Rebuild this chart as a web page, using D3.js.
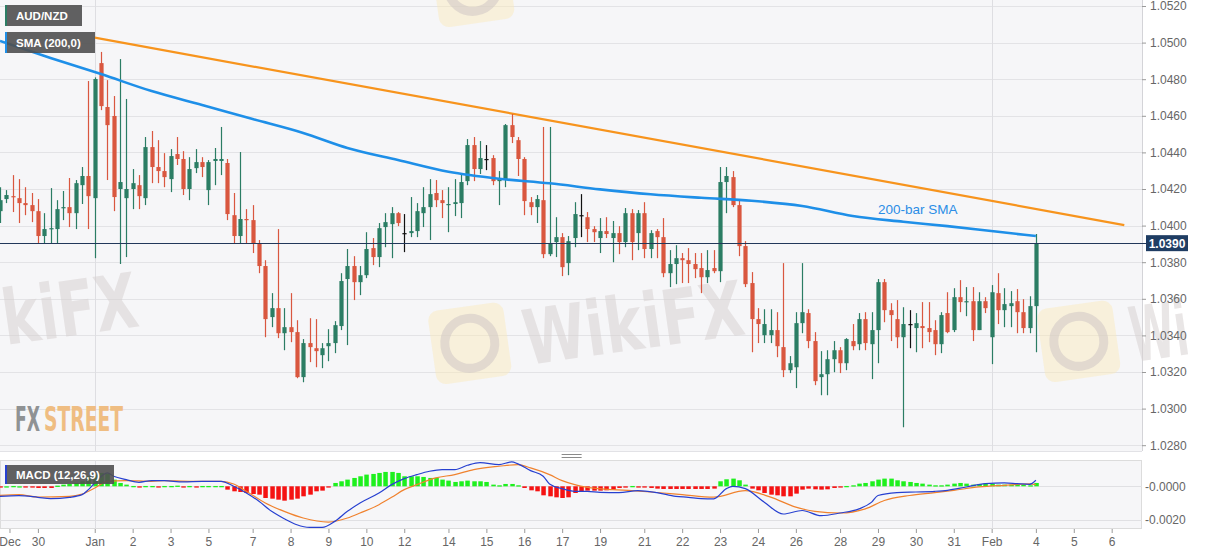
<!DOCTYPE html>
<html><head><meta charset="utf-8">
<script src="https://cdn.jsdelivr.net/npm/d3@7"></script>
<style>
html,body{margin:0;padding:0;background:#fff;}
svg{display:block;font-family:"Liberation Sans",Arial,sans-serif;}
</style></head><body>
<svg id="c" width="1207" height="555"></svg>
<script>
// ---------- DATA (4-hour AUD/NZD candles, Dec 30 – Feb 4) ----------
const openP = [1.04079,1.04145,1.04161,1.04150,1.04123,1.04112,1.04079,1.03943,1.03981,1.03981,
 1.04096,1.04101,1.04068,1.04221,1.04271,1.04150,1.04888,1.04648,1.04599,1.04200,
 1.04150,1.04200,1.04221,1.04150,1.04429,1.04320,1.04298,1.04254,1.04391,1.04364,
 1.04200,1.04314,1.04347,1.04194,1.04353,1.04353,1.04342,1.04057,1.03943,1.04036,
 1.04030,1.03904,1.03779,1.03500,1.03549,1.03412,1.03445,1.03418,1.03172,1.03358,
 1.03330,1.03292,1.03341,1.03358,1.03451,1.03708,1.03779,1.03691,1.03729,1.03877,
 1.03828,1.03992,1.04008,1.04068,1.03959,1.03959,1.03970,1.04068,1.04101,1.04178,
 1.04139,1.04112,1.04118,1.04123,1.04243,1.04440,1.04309,1.04364,1.04369,1.04243,
 1.04254,1.04549,1.04467,1.04364,1.04128,1.04101,1.04139,1.03844,1.03910,1.03937,
 1.03795,1.03932,1.04057,1.04046,1.03981,1.03932,1.03970,1.03932,1.03959,1.03910,
 1.04068,1.03959,1.04068,1.03872,1.03970,1.03937,1.03740,1.03790,1.03822,1.03811,
 1.03790,1.03768,1.03718,1.03768,1.03751,1.04238,1.04265,1.04112,1.03888,1.03686,
 1.03489,1.03401,1.03401,1.03429,1.03336,1.03210,1.03226,1.03467,1.03522,1.03369,
 1.03172,1.03188,1.03270,1.03319,1.03248,1.03369,1.03352,1.03489,1.03352,1.03429,
 1.03691,1.03538,1.03489,1.03390,1.03462,1.03440,1.03451,1.03440,1.03429,1.03352,
 1.03522,1.03429,1.03609,1.03582,1.03587,1.03429,1.03587,1.03390,1.03631,1.03538,
 1.03560,1.03587,1.03527,1.03440,1.03560];
const highP = [1.04210,1.04194,1.04276,1.04254,1.04210,1.04178,1.04145,1.04068,1.04205,1.04139,
 1.04189,1.04260,1.04249,1.04320,1.04790,1.04810,1.04949,1.04795,1.04708,1.04910,
 1.04692,1.04309,1.04276,1.04484,1.04517,1.04467,1.04396,1.04418,1.04484,1.04407,
 1.04374,1.04418,1.04374,1.04358,1.04424,1.04539,1.04364,1.04178,1.04402,1.04090,
 1.04112,1.03921,1.03811,1.03631,1.03981,1.03549,1.03631,1.03483,1.03380,1.03494,
 1.03489,1.03358,1.03434,1.03478,1.03740,1.03872,1.03833,1.03779,1.03964,1.03932,
 1.04014,1.04068,1.04101,1.04074,1.04063,1.04156,1.04123,1.04210,1.04254,1.04249,
 1.04194,1.04210,1.04254,1.04287,1.04473,1.04484,1.04462,1.04440,1.04385,1.04298,
 1.04555,1.04610,1.04484,1.04374,1.04156,1.04167,1.04539,1.04539,1.04046,1.03959,
 1.03943,1.04128,1.04172,1.04074,1.03997,1.04041,1.04046,1.04025,1.03997,1.04096,
 1.04090,1.04085,1.04128,1.03975,1.03981,1.04041,1.03866,1.03893,1.03850,1.03877,
 1.03850,1.03850,1.03866,1.03866,1.04320,1.04320,1.04298,1.04139,1.03915,1.03746,
 1.03549,1.03543,1.03543,1.03527,1.03795,1.03287,1.03527,1.03795,1.03543,1.03418,
 1.03314,1.03319,1.03369,1.03336,1.03385,1.03462,1.03522,1.03527,1.03527,1.03708,
 1.03708,1.03576,1.03593,1.03554,1.03538,1.03522,1.03582,1.03582,1.03483,1.03527,
 1.03636,1.03658,1.03702,1.03664,1.03664,1.03636,1.03609,1.03675,1.03740,1.03658,
 1.03642,1.03653,1.03598,1.03614,1.03954];
const lowP = [1.04014,1.04123,1.04074,1.04014,1.04057,1.04019,1.03904,1.03904,1.03904,1.03904,
 1.04030,1.03992,1.03981,1.04118,1.03981,1.03822,1.04631,1.04249,1.04079,1.03790,
 1.03828,1.04090,1.04090,1.04112,1.04232,1.04232,1.04210,1.04183,1.04331,1.04167,
 1.04139,1.04287,1.04265,1.04112,1.04221,1.04276,1.04030,1.03904,1.03904,1.03904,
 1.03850,1.03740,1.03390,1.03445,1.03385,1.03319,1.03363,1.03166,1.03144,1.03254,
 1.03226,1.03221,1.03259,1.03303,1.03429,1.03347,1.03593,1.03620,1.03713,1.03784,
 1.03773,1.03882,1.03822,1.03997,1.03855,1.03937,1.03937,1.03992,1.03921,1.04101,
 1.04041,1.03964,1.04052,1.04041,1.04221,1.04243,1.04282,1.04303,1.04221,1.04112,
 1.04210,1.04451,1.04271,1.04057,1.04057,1.04014,1.03822,1.03833,1.03828,1.03724,
 1.03729,1.03882,1.03937,1.03910,1.03910,1.03850,1.03932,1.03800,1.03844,1.03882,
 1.03811,1.03866,1.03822,1.03822,1.03822,1.03718,1.03664,1.03680,1.03686,1.03686,
 1.03713,1.03631,1.03686,1.03740,1.03691,1.04068,1.04101,1.03833,1.03664,1.03308,
 1.03358,1.03358,1.03358,1.03281,1.03172,1.03194,1.03112,1.03412,1.03330,1.03128,
 1.03073,1.03073,1.03199,1.03194,1.03210,1.03319,1.03319,1.03319,1.03161,1.03248,
 1.03472,1.03369,1.03330,1.02898,1.03330,1.03308,1.03330,1.03363,1.03292,1.03303,
 1.03412,1.03418,1.03527,1.03505,1.03369,1.03429,1.03522,1.03243,1.03462,1.03445,
 1.03445,1.03412,1.03412,1.03412,1.03308];
const closeP = [1.04139,1.04167,1.04156,1.04123,1.04112,1.04079,1.03943,1.03981,1.03986,1.04090,
 1.04101,1.04068,1.04232,1.04271,1.04161,1.04801,1.04653,1.04549,1.04156,1.04238,
 1.04200,1.04232,1.04161,1.04429,1.04320,1.04298,1.04265,1.04380,1.04364,1.04200,
 1.04309,1.04347,1.04320,1.04347,1.04364,1.04364,1.04063,1.03943,1.04036,1.04030,
 1.03904,1.03779,1.03489,1.03549,1.03412,1.03445,1.03418,1.03172,1.03358,1.03336,
 1.03314,1.03330,1.03358,1.03456,1.03697,1.03779,1.03691,1.03729,1.03872,1.03828,
 1.03986,1.04019,1.04068,1.04014,1.03959,1.03970,1.04079,1.04101,1.04172,1.04139,
 1.04123,1.04118,1.04128,1.04238,1.04440,1.04309,1.04369,1.04364,1.04243,1.04260,
 1.04549,1.04484,1.04364,1.04134,1.04101,1.04145,1.03844,1.03904,1.03937,1.03773,
 1.03915,1.04063,1.04057,1.03981,1.03964,1.03970,1.03954,1.03959,1.03910,1.04068,
 1.03910,1.04068,1.03872,1.03959,1.03937,1.03740,1.03790,1.03822,1.03811,1.03790,
 1.03762,1.03718,1.03757,1.03751,1.04238,1.04271,1.04112,1.03888,1.03680,1.03489,
 1.03462,1.03462,1.03429,1.03341,1.03210,1.03248,1.03467,1.03527,1.03369,1.03150,
 1.03188,1.03270,1.03319,1.03248,1.03380,1.03341,1.03489,1.03358,1.03429,1.03691,
 1.03538,1.03511,1.03390,1.03462,1.03462,1.03467,1.03440,1.03418,1.03352,1.03511,
 1.03418,1.03609,1.03582,1.03587,1.03429,1.03587,1.03549,1.03636,1.03538,1.03571,
 1.03576,1.03527,1.03440,1.03560,1.03904];

// 200-bar SMA (read at sample bars)
const smaIdx = [0,8,16,24,32,40,48,55,63,71,79,87,95,103,111,119,127,135,143,150,158,164];
const smaVal = [1.05009,1.04916,1.04828,1.04735,1.04659,1.04582,1.04506,1.04424,1.04358,1.04294,1.04256,
 1.04231,1.04198,1.04171,1.04152,1.04136,1.04107,1.04052,1.04021,1.03997,1.03966,1.03943];

// Falling resistance line (two anchors)
const trendIdx = [15, 178];
const trendVal = [1.05027, 1.04003];

// MACD (12,26,9)
const macdIdx = [0,3,6,8,11,13,14,15,17,18,20,22,24,26,29,32,35,37,39,41,43,45,47,49,51,53,55,57,60,62,
 64,66,68,70,72,74,76,79,81,82,84,86,87,89,91,93,95,98,101,104,107,109,111,113,115,116,118,121,124,127,
 130,133,136,138,139,142,145,148,150,153,156,159,161,163,164];
const macdVal = [-0.0006,-0.00056,-0.00066,-0.00074,-0.00066,-0.0005,-0.0002,0.0002,0.0008,0.0006,
 0.0004,0.00024,0.00034,0.00034,0.00026,0.0003,0.0003,0,-0.0004,-0.0009,
 -0.0015,-0.00194,-0.0023,-0.00246,-0.00246,-0.0021,-0.0015,-0.001,-0.0004,0.0001,
 0.00046,0.0007,0.0009,0.001,0.001,0.00126,0.00142,0.0013,0.00146,0.00134,
 0.00094,0.0006,0.00014,-0.00014,-0.0003,-0.0003,-0.00036,-0.00038,-0.00026,-0.00038,
 -0.0006,-0.00066,-0.00074,-0.00075,-0.00014,0,-0.00014,-0.00095,-0.00166,-0.00145,
 -0.00176,-0.0016,-0.00135,-0.00095,-0.00055,-0.00038,-0.00034,-0.0003,-0.00024,-0.00004,
 0.00016,0.0002,0.00016,0.00012,0.00036];
const sigIdx = [0,3,6,11,13,15,17,20,24,26,30,35,37,39,42,45,48,52,55,57,60,62,64,66,69,72,75,79,82,84,
 87,89,91,93,97,100,103,105,108,113,118,122,126,129,133,137,140,144,148,151,155,159,163,164];
const sigVal = [-0.00054,-0.0005,-0.00064,-0.0006,-0.00046,-0.0001,0.0003,0.00034,0.0003,0.00034,
 0.0003,0.0003,0.00014,-0.0003,-0.001,-0.0015,-0.0019,-0.00214,-0.0019,-0.0016,
 -0.0011,-0.00066,-0.0002,0.0001,0.0005,0.0007,0.001,0.0012,0.0013,0.0011,
 0.0007,0.00034,0.0001,-0.00006,-0.0002,-0.00026,-0.00034,-0.0004,-0.0005,-0.00065,
 -0.00026,-0.00065,-0.00125,-0.0015,-0.0016,-0.00135,-0.00085,-0.00055,-0.00038,-0.00024,
 -0.00004,0.00006,0.00014,0.0001];
const histVal = [-0.00002,0,0.00002,0,-0.00002,-0.00004,-0.0001,-0.0001,-0.0001,0.00004,
 0.0001,0.00014,0.0002,0.0003,0.0006,0.0007,0.0008,0.00076,0.0004,0.0002,
 0.0001,0.00002,-0.00006,0.00002,0.00002,-0.00002,0.00002,0.00002,0.00004,-0.00004,
 0.00002,-0.00004,0.00002,0.00002,0.00002,0.00002,-0.0002,-0.0003,-0.00034,-0.0004,
 -0.00046,-0.0005,-0.0007,-0.00074,-0.0008,-0.00086,-0.0008,-0.00074,-0.0006,-0.0005,
 -0.0003,-0.00026,-0.00006,0.0002,0.0003,0.0004,0.0005,0.0006,0.0007,0.00074,
 0.0008,0.00086,0.00086,0.0008,0.0006,0.0006,0.0006,0.00056,0.0005,0.0005,
 0.0004,0.00034,0.00026,0.0003,0.00034,0.0003,0.0003,0.00026,0.0001,0.00006,
 0.00014,0.00014,0.00006,-0.0001,-0.00024,-0.0003,-0.00054,-0.0006,-0.00066,-0.0007,
 -0.00066,-0.0004,-0.0003,-0.00026,-0.00026,-0.00026,-0.00024,-0.0002,-0.0001,-0.00008,
 0.00002,-0.00004,-0.00006,-0.0001,-0.00014,-0.00016,-0.00016,-0.00016,-0.00016,-0.00016,
 -0.00016,-0.00016,-0.00016,-0.00014,0.0003,0.00042,0.00046,0.00036,0.0001,-0.00014,
 -0.00024,-0.0004,-0.0005,-0.00054,-0.0006,-0.0006,-0.00044,-0.0002,-0.00014,-0.00018,
 -0.0002,-0.00018,-0.0001,-0.00004,0.00002,0.00006,0.00016,0.0002,0.0003,0.0004,
 0.00046,0.00046,0.00036,0.0003,0.00026,0.0002,0.00016,0.0001,0.00006,0.00006,
 0.0001,0.00016,0.0002,0.00016,0.0001,0.00014,0.00016,0.00016,0.0001,0.0001,
 0.0001,0.0001,0.0001,0.00006,0.0002];

// Axis ticks
const priceTicks = [1.0280,1.0300,1.0320,1.0340,1.0360,1.0380,1.0400,1.0420,1.0440,1.0460,1.0480,1.0500,1.0520];
const macdTicks = [0, -0.0020];
const macdTickLabels = ["-0.0000", "-0.0020"];
const xTickIdx = [1.5,6,15,21,27,33,40,46,52,58,64,71,77,83,89,95,102,108,114,120,126,133,139,145,151,157,164,170,176];
const xTickLabels = ["Dec","30","Jan","2","3","5","7","8","9","10","12","14","15","16","17","19","21","22","23","24","26","28","29","30","31","Feb","4","5","6"];
const monthStartIdx = [15, 157];

// ---------- LAYOUT ----------
const PW = 1142;
const M = {top:0, bottom:451};
const Mc = {top:460, bottom:529};
const svg = d3.select("#c");

const x = d3.scaleLinear().domain([0, 180.8]).range([0, PW]);
const y = d3.scaleLinear().domain([1.0280, 1.0520]).range([445.2, 6]);
const ym = d3.scaleLinear().domain([-0.0020, 0]).range([519.7, 486.3]);

const defs = svg.append("defs");
defs.append("clipPath").attr("id","clipMain").append("rect").attr("x",0).attr("y",M.top).attr("width",PW).attr("height",M.bottom-M.top);
defs.append("clipPath").attr("id","clipMacd").append("rect").attr("x",0).attr("y",Mc.top).attr("width",PW).attr("height",Mc.bottom-Mc.top);

svg.append("rect").attr("width",1207).attr("height",555).attr("fill","#ffffff");
svg.append("rect").attr("x",0).attr("y",M.top).attr("width",PW).attr("height",M.bottom-M.top).attr("fill","#f6f6f8");
svg.append("rect").attr("x",0.5).attr("y",Mc.top+0.5).attr("width",PW-1).attr("height",Mc.bottom-Mc.top-1).attr("fill","#f6f6f8").attr("stroke","#dcdcdc");

// grid
svg.append("g").selectAll("line").data(priceTicks).join("line")
  .attr("x1",0).attr("x2",PW).attr("y1",d=>Math.round(y(d))+0.5).attr("y2",d=>Math.round(y(d))+0.5)
  .attr("stroke","#e3e3e6");
svg.append("g").selectAll("line").data(macdTicks).join("line")
  .attr("x1",0).attr("x2",PW).attr("y1",d=>Math.round(ym(d))+0.5).attr("y2",d=>Math.round(ym(d))+0.5)
  .attr("stroke","#e0e0e3");
monthStartIdx.forEach(i=>{
  const xx = Math.round(x(i))+0.5;
  svg.append("line").attr("x1",xx).attr("x2",xx).attr("y1",M.top).attr("y2",M.bottom).attr("stroke","#dedee2");
  svg.append("line").attr("x1",xx).attr("x2",xx).attr("y1",Mc.top).attr("y2",Mc.bottom).attr("stroke","#dedee2");
});
svg.append("line").attr("x1",PW+0.5).attr("x2",PW+0.5).attr("y1",0).attr("y2",M.bottom).attr("stroke","#d4d4d8");
svg.append("line").attr("x1",0).attr("x2",PW).attr("y1",M.bottom+0.5).attr("y2",M.bottom+0.5).attr("stroke","#e2e2e6");

// ---------- watermarks ----------
function wmLogo(gx, gy){
  const g = svg.append("g").attr("transform",`translate(${gx},${gy}) rotate(-8)`);
  g.append("rect").attr("x",0).attr("y",0).attr("width",76).attr("height",74).attr("rx",10)
    .attr("fill","#fbe8b8").attr("opacity",0.45);
  g.append("circle").attr("cx",38).attr("cy",37).attr("r",25).attr("fill","none")
    .attr("stroke","#cfc7c4").attr("stroke-width",9).attr("opacity",0.55);
}
function wmText(tx, ty, txt, tlen){
  svg.append("text").attr("x",tx).attr("y",ty).text(txt)
    .attr("transform",`rotate(-8,${tx},${ty})`)
    .attr("font-family","DejaVu Sans, sans-serif").attr("font-weight","bold").attr("font-size",76)
    .attr("textLength",tlen).attr("lengthAdjust","spacingAndGlyphs")
    .attr("fill","#d8d2d2").attr("opacity",0.55);
}
wmLogo(427, 312); wmText(527, 365, "WikiFX", 222);
wmLogo(1036, 310); wmText(1134, 362, "Wi", 58);
wmText(6, 345, "kiFX", 136);
wmLogo(430, -45);

// FXSTREET logo
const fxAttrs = t => t.attr("y",431).attr("font-family","DejaVu Sans Condensed, DejaVu Sans, sans-serif")
  .attr("font-weight","bold").attr("font-size",34).attr("lengthAdjust","spacingAndGlyphs");
svg.append("text").attr("x",15).text("FX").attr("fill","#8f9294").attr("textLength",25).call(fxAttrs);
svg.append("text").attr("x",44).text("STREET").attr("fill","#efbd82").attr("textLength",79).call(fxAttrs);

// ---------- candles ----------
const candles = openP.map((o,i)=>({i, o, h:highP[i], l:lowP[i], c:closeP[i]}));
const GREEN = "#2b7d64", RED = "#d9573f";
const col = d => d.c > d.o ? GREEN : (d.c < d.o ? RED : "#111111");
const cg = svg.append("g").attr("clip-path","url(#clipMain)");

cg.append("path").datum(trendIdx.map((d,k)=>[d,trendVal[k]]))
  .attr("d", d3.line().x(d=>x(d[0])).y(d=>y(d[1])))
  .attr("fill","none").attr("stroke","#f7941d").attr("stroke-width",2.2);

cg.selectAll("line.wick").data(candles).join("line").attr("class","wick")
  .attr("x1",d=>Math.round(x(d.i))+0.5).attr("x2",d=>Math.round(x(d.i))+0.5)
  .attr("y1",d=>y(d.h)).attr("y2",d=>y(d.l))
  .attr("stroke",col).attr("stroke-width",1.2);
cg.selectAll("rect.body").data(candles).join("rect").attr("class","body")
  .attr("x",d=>Math.round(x(d.i))-1.6).attr("width",4.2)
  .attr("y",d=>y(Math.max(d.o,d.c)))
  .attr("height",d=>Math.max(1.2, Math.abs(y(d.o)-y(d.c))))
  .attr("fill",col);

cg.append("path").datum(smaIdx.map((d,k)=>[d,smaVal[k]]))
  .attr("d", d3.line().curve(d3.curveMonotoneX).x(d=>x(d[0])).y(d=>y(d[1])))
  .attr("fill","none").attr("stroke","#1e8fe8").attr("stroke-width",2.6);

const last = closeP[closeP.length-1];
svg.append("line").attr("x1",0).attr("x2",PW+4).attr("y1",Math.round(y(last))+0.5).attr("y2",Math.round(y(last))+0.5)
  .attr("stroke","#22385a").attr("stroke-width",1.2);

svg.append("text").attr("x",x(139)).attr("y",y(1.04063)).text("200-bar SMA")
  .attr("fill","#2b8de6").attr("font-size",13.5);

// ---------- MACD ----------
const mg = svg.append("g").attr("clip-path","url(#clipMacd)");
mg.selectAll("rect").data(histVal).join("rect")
  .attr("x",(d,i)=>Math.round(x(i))-1.7).attr("width",4.5)
  .attr("y",d=>ym(Math.max(0,d)))
  .attr("height",d=>Math.max(1.3, Math.abs(ym(d)-ym(0))))
  .attr("fill",d=>d>=0?"#1ef01e":"#f51212");
mg.append("path").datum(sigIdx.map((d,k)=>[d,sigVal[k]]))
  .attr("d", d3.line().curve(d3.curveMonotoneX).x(d=>x(d[0])).y(d=>ym(d[1])))
  .attr("fill","none").attr("stroke","#f0822e").attr("stroke-width",1.2);
mg.append("path").datum(macdIdx.map((d,k)=>[d,macdVal[k]]))
  .attr("d", d3.line().curve(d3.curveMonotoneX).x(d=>x(d[0])).y(d=>ym(d[1])))
  .attr("fill","none").attr("stroke","#2740d0").attr("stroke-width",1.2);

const hx = x(90.5);
[454.5, 457.5].forEach(yy=>svg.append("line").attr("x1",hx-10).attr("x2",hx+10).attr("y1",yy).attr("y2",yy).attr("stroke","#8a8a8a"));

// ---------- axes ----------
const ay = svg.append("g").attr("transform",`translate(${PW},0)`)
  .call(d3.axisRight(y).tickValues(priceTicks).tickSize(4).tickPadding(4).tickFormat(d3.format(".4f")));
ay.select(".domain").remove();
ay.selectAll("line").attr("stroke","#9a9a9a");
ay.selectAll("text").attr("fill","#666").attr("font-size",12).attr("font-family","Liberation Sans, Arial, sans-serif");

const aym = svg.append("g").attr("transform",`translate(${PW},0)`)
  .call(d3.axisRight(ym).tickValues(macdTicks).tickSize(0).tickPadding(3).tickFormat((d,i)=>macdTickLabels[i]));
aym.select(".domain").remove();
aym.selectAll("text").attr("fill","#666").attr("font-size",12).attr("font-family","Liberation Sans, Arial, sans-serif");

const ax = svg.append("g").attr("transform",`translate(0,${Mc.bottom})`)
  .call(d3.axisBottom(x).tickValues(xTickIdx).tickSize(4).tickPadding(4).tickFormat((d,i)=>xTickLabels[i]));
ax.select(".domain").remove();
ax.selectAll("line").attr("stroke","#9a9a9a");
ax.selectAll("text").attr("fill","#666").attr("font-size",12).attr("font-family","Liberation Sans, Arial, sans-serif");

const tagY = y(last);
svg.append("rect").attr("x",PW+4).attr("y",tagY-8).attr("width",42).attr("height",16).attr("fill","#1f3d63");
svg.append("text").attr("x",PW+25).attr("y",tagY+4.5).attr("text-anchor","middle")
  .attr("fill","#fff").attr("font-weight","bold").attr("font-size",12).text(d3.format(".4f")(last));

// ---------- legend boxes ----------
function legendBox(bx, by, w, h, txt, edge){
  svg.append("rect").attr("x",bx).attr("y",by).attr("width",w).attr("height",h).attr("fill","#505050").attr("opacity",0.9);
  svg.append("rect").attr("x",bx).attr("y",by).attr("width",2).attr("height",h).attr("fill",edge);
  svg.append("text").attr("x",bx+11).attr("y",by+h/2+4).text(txt)
    .attr("fill","#fff").attr("font-weight","bold").attr("font-size",11.5);
}
legendBox(5, 5, 77, 21, "AUD/NZD", "#2b7d64");
legendBox(5, 32, 90, 21, "SMA (200,0)", "#1e8fe8");
legendBox(5, 465, 109, 19, "MACD (12,26,9)", "#2740d0");
</script>
</body></html>
